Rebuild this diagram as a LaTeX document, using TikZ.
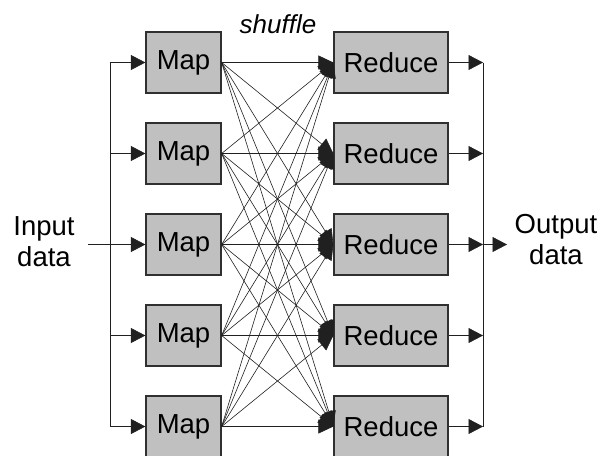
\documentclass[tikz,border=0pt]{standalone}
\usepackage{fontspec}
\setmainfont{Liberation Sans}
\usetikzlibrary{arrows.meta,calc}
\definecolor{boxfill}{HTML}{C0C0C0}
\definecolor{boxline}{HTML}{303030}
\definecolor{wire}{HTML}{202020}
\begin{document}
\begin{tikzpicture}[x=1pt,y=-1pt,
  lbl/.style={font=\fontsize{27.5}{31}\selectfont, inner sep=0pt},
  mapbox/.style={lbl, draw=boxline, line width=1.3pt, fill=boxfill, minimum width=75pt, minimum height=61pt},
  redbox/.style={lbl, draw=boxline, line width=1.3pt, fill=boxfill, minimum width=114pt, minimum height=61pt},
  wireline/.style={draw=wire, line width=0.6pt},
  tip/.style={wireline, -{Triangle[length=14.5pt,width=15pt]}},
  shuf/.style={wireline, -{Triangle[length=15pt,width=14pt]}}
]
\useasboundingbox (0,0) rectangle (601,455);
\clip (0,0) rectangle (601,455);
\foreach \i/\y in {1/62.5,2/153.5,3/244.5,4/335.5,5/426.5}{
  \node[mapbox] (map\i) at (183.5,\y) {Map};
  \node[redbox] (red\i) at (391,\y) {Reduce};
}
\foreach \i in {1,...,5}{
  \foreach \j in {1,...,5}{
    \draw[shuf] (map\i.east) -- (red\j.west);
  }
}
\node[lbl, font=\fontsize{26}{31}\selectfont\itshape, anchor=base] (shuffle) at (278,33) {shuffle};
% input side
\coordinate (inJ) at (110,244.5);
\coordinate (inStart) at (88,244.5);
\node[lbl, anchor=base] (inT1) at (44,235) {Input};
\node[lbl, anchor=base] (inT2) at (44,266) {data};
\draw[wireline] (inStart) -- (inJ);
\draw[wireline] (map1.west -| inJ) -- (map5.west -| inJ);
\foreach \i in {1,...,5}{
  \draw[tip] (map\i.west -| inJ) -- (map\i.west);
}
% output side
\coordinate (outJ) at (483,244.5);
\coordinate (outEnd) at (507,244.5);
\draw[wireline] (red1.east -| outJ) -- (red5.east -| outJ);
\foreach \i in {1,...,5}{
  \draw[tip] (red\i.east) -- (red\i.east -| outJ);
}
\draw[tip] (outJ) -- (outEnd);
\node[lbl, anchor=base] (outT1) at (556,233) {Output};
\node[lbl, anchor=base] (outT2) at (556,264) {data};
\end{tikzpicture}
\end{document}
